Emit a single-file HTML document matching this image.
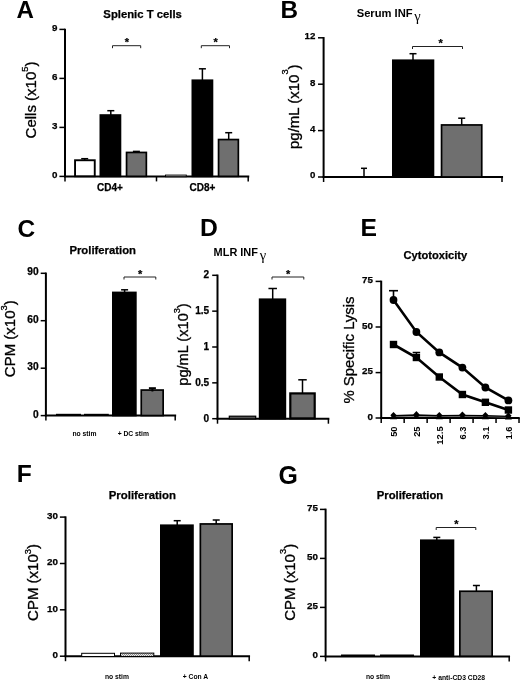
<!DOCTYPE html>
<html><head><meta charset="utf-8"><title>Figure</title>
<style>
html,body{margin:0;padding:0;background:#fff;}
body{width:520px;height:680px;overflow:hidden;font-family:"Liberation Sans",sans-serif;}
svg{display:block;font-family:"Liberation Sans",sans-serif;filter:blur(0.35px);}
</style></head><body>
<svg width="520" height="680" viewBox="0 0 520 680">
<defs><pattern id="hatch" width="2" height="2" patternUnits="userSpaceOnUse"><rect width="2" height="2" fill="#e8e8e8"/><rect width="1" height="1" fill="#888"/><rect x="1" y="1" width="1" height="1" fill="#888"/></pattern></defs>
<rect x="0" y="0" width="520" height="680" fill="#fff"/>
<text x="16.5" y="18.3" font-size="24.1" font-weight="bold" text-anchor="start">A</text>
<text x="280.4" y="18.0" font-size="24.3" font-weight="bold" text-anchor="start">B</text>
<text x="17.6" y="236.5" font-size="24.5" font-weight="bold" text-anchor="start">C</text>
<text x="200.1" y="235.7" font-size="24.7" font-weight="bold" text-anchor="start">D</text>
<text x="360.5" y="235.7" font-size="24.7" font-weight="bold" text-anchor="start">E</text>
<text x="16.7" y="481.5" font-size="24.6" font-weight="bold" text-anchor="start">F</text>
<text x="278.5" y="483.5" font-size="24.9" font-weight="bold" text-anchor="start">G</text>
<text x="142.6" y="18.0" font-size="11.3" font-weight="bold" text-anchor="middle" stroke="#000" stroke-width="0.25">Splenic T cells</text>
<line x1="65" y1="28.65" x2="65" y2="177.15" stroke="#000" stroke-width="2.0" stroke-linecap="butt"/>
<line x1="59.4" y1="29.4" x2="65" y2="29.4" stroke="#000" stroke-width="1.5" stroke-linecap="butt"/>
<text x="57.5" y="30.599999999999998" font-size="9.8" font-weight="bold" text-anchor="end" stroke="#000" stroke-width="0.25">9</text>
<line x1="59.4" y1="78.4" x2="65" y2="78.4" stroke="#000" stroke-width="1.5" stroke-linecap="butt"/>
<text x="57.5" y="79.60000000000001" font-size="9.8" font-weight="bold" text-anchor="end" stroke="#000" stroke-width="0.25">6</text>
<line x1="59.4" y1="127.4" x2="65" y2="127.4" stroke="#000" stroke-width="1.5" stroke-linecap="butt"/>
<text x="57.5" y="128.6" font-size="9.8" font-weight="bold" text-anchor="end" stroke="#000" stroke-width="0.25">3</text>
<line x1="59.4" y1="176.4" x2="65" y2="176.4" stroke="#000" stroke-width="1.5" stroke-linecap="butt"/>
<text x="57.5" y="177.6" font-size="9.8" font-weight="bold" text-anchor="end" stroke="#000" stroke-width="0.25">0</text>
<line x1="64.0" y1="176.4" x2="249.25" y2="176.4" stroke="#000" stroke-width="2.0" stroke-linecap="butt"/>
<line x1="65" y1="176.4" x2="65" y2="181.4" stroke="#000" stroke-width="1.5" stroke-linecap="butt"/>
<line x1="156.5" y1="176.4" x2="156.5" y2="181.4" stroke="#000" stroke-width="1.5" stroke-linecap="butt"/>
<line x1="248.2" y1="176.4" x2="248.2" y2="181.4" stroke="#000" stroke-width="1.5" stroke-linecap="butt"/>
<text x="36" y="100" font-size="15" text-anchor="middle" stroke="#000" stroke-width="0.3" transform="rotate(-90 36 100)">Cells (x10<tspan font-size="9.3" dy="-8.4">5</tspan><tspan dy="8.4">)</tspan></text>
<rect x="75.05" y="160.25" width="19.70" height="16.00" fill="#fff" stroke="#000" stroke-width="1.9"/>
<line x1="84.7" y1="158.7" x2="84.7" y2="160" stroke="#000" stroke-width="1.5" stroke-linecap="butt"/>
<line x1="81.2" y1="158.7" x2="88.2" y2="158.7" stroke="#000" stroke-width="1.5" stroke-linecap="butt"/>
<rect x="100.35" y="115.05" width="20.10" height="61.30" fill="#000" stroke="#000" stroke-width="1.7"/>
<line x1="110.8" y1="110.7" x2="110.8" y2="115" stroke="#000" stroke-width="1.5" stroke-linecap="butt"/>
<line x1="107.3" y1="110.7" x2="114.3" y2="110.7" stroke="#000" stroke-width="1.5" stroke-linecap="butt"/>
<rect x="126.55" y="152.45" width="19.80" height="23.90" fill="#6f6f6f" stroke="#000" stroke-width="1.7"/>
<line x1="136.4" y1="151.4" x2="136.4" y2="152.5" stroke="#000" stroke-width="1.5" stroke-linecap="butt"/>
<line x1="132.9" y1="151.4" x2="139.9" y2="151.4" stroke="#000" stroke-width="1.5" stroke-linecap="butt"/>
<rect x="165.50" y="175.10" width="20.80" height="1.60" fill="#fff" stroke="#000" stroke-width="1.0"/>
<rect x="192.35" y="80.25" width="20.10" height="96.10" fill="#000" stroke="#000" stroke-width="1.7"/>
<line x1="202.4" y1="68.8" x2="202.4" y2="80" stroke="#000" stroke-width="1.5" stroke-linecap="butt"/>
<line x1="198.9" y1="68.8" x2="205.9" y2="68.8" stroke="#000" stroke-width="1.5" stroke-linecap="butt"/>
<rect x="218.55" y="139.55" width="19.80" height="36.80" fill="#6f6f6f" stroke="#000" stroke-width="1.7"/>
<line x1="228.7" y1="132.7" x2="228.7" y2="139.5" stroke="#000" stroke-width="1.5" stroke-linecap="butt"/>
<line x1="225.2" y1="132.7" x2="232.2" y2="132.7" stroke="#000" stroke-width="1.5" stroke-linecap="butt"/>
<polyline points="112.5,48.2 112.5,45.7 140.7,45.7 140.7,48.2" fill="none" stroke="#222" stroke-width="1.0"/>
<text x="126.89999999999999" y="46.2" font-size="11" font-weight="bold" text-anchor="middle" stroke="#000" stroke-width="0.25">*</text>
<polyline points="201.3,48.2 201.3,45.7 229.5,45.7 229.5,48.2" fill="none" stroke="#222" stroke-width="1.0"/>
<text x="215.70000000000002" y="46.2" font-size="11" font-weight="bold" text-anchor="middle" stroke="#000" stroke-width="0.25">*</text>
<text x="110" y="190.6" font-size="10" font-weight="bold" text-anchor="middle" stroke="#000" stroke-width="0.25">CD4+</text>
<text x="202.5" y="190.6" font-size="10" font-weight="bold" text-anchor="middle" stroke="#000" stroke-width="0.25">CD8+</text>
<text x="356.7" y="16.5" font-size="11.2" font-weight="bold">Serum INF<tspan font-family="Liberation Serif" font-weight="normal" font-size="14.5" dy="4" dx="1.5">γ</tspan></text>
<line x1="323.6" y1="37.05" x2="323.6" y2="177.75" stroke="#000" stroke-width="2.0" stroke-linecap="butt"/>
<line x1="318.0" y1="37.8" x2="323.6" y2="37.8" stroke="#000" stroke-width="1.5" stroke-linecap="butt"/>
<text x="315.3" y="39.199999999999996" font-size="9.7" font-weight="bold" text-anchor="end" stroke="#000" stroke-width="0.25">12</text>
<line x1="318.0" y1="84.2" x2="323.6" y2="84.2" stroke="#000" stroke-width="1.5" stroke-linecap="butt"/>
<text x="315.3" y="85.60000000000001" font-size="9.7" font-weight="bold" text-anchor="end" stroke="#000" stroke-width="0.25">8</text>
<line x1="318.0" y1="130.6" x2="323.6" y2="130.6" stroke="#000" stroke-width="1.5" stroke-linecap="butt"/>
<text x="315.3" y="132.0" font-size="9.7" font-weight="bold" text-anchor="end" stroke="#000" stroke-width="0.25">4</text>
<line x1="318.0" y1="177.0" x2="323.6" y2="177.0" stroke="#000" stroke-width="1.5" stroke-linecap="butt"/>
<text x="315.3" y="178.4" font-size="9.7" font-weight="bold" text-anchor="end" stroke="#000" stroke-width="0.25">0</text>
<line x1="322.6" y1="177.0" x2="503.05" y2="177.0" stroke="#000" stroke-width="2.0" stroke-linecap="butt"/>
<line x1="323.6" y1="177.0" x2="323.6" y2="182.0" stroke="#000" stroke-width="1.5" stroke-linecap="butt"/>
<line x1="502" y1="177.0" x2="502" y2="182.0" stroke="#000" stroke-width="1.5" stroke-linecap="butt"/>
<text x="298.8" y="106.7" font-size="15" text-anchor="middle" stroke="#000" stroke-width="0.3" transform="rotate(-90 298.8 106.7)">pg/mL (x10<tspan font-size="9.3" dy="-10.3">3</tspan><tspan dy="10.3">)</tspan></text>
<line x1="364" y1="168.3" x2="364" y2="177" stroke="#000" stroke-width="1.5" stroke-linecap="butt"/>
<line x1="361.0" y1="168.3" x2="367.0" y2="168.3" stroke="#000" stroke-width="1.5" stroke-linecap="butt"/>
<rect x="392.85" y="60.25" width="40.60" height="116.70" fill="#000" stroke="#000" stroke-width="1.7"/>
<line x1="413" y1="53.7" x2="413" y2="60" stroke="#000" stroke-width="1.5" stroke-linecap="butt"/>
<line x1="409.5" y1="53.7" x2="416.5" y2="53.7" stroke="#000" stroke-width="1.5" stroke-linecap="butt"/>
<rect x="441.55" y="124.95" width="40.20" height="52.00" fill="#6f6f6f" stroke="#000" stroke-width="1.7"/>
<line x1="461.7" y1="118.2" x2="461.7" y2="125" stroke="#000" stroke-width="1.5" stroke-linecap="butt"/>
<line x1="458.2" y1="118.2" x2="465.2" y2="118.2" stroke="#000" stroke-width="1.5" stroke-linecap="butt"/>
<polyline points="412.5,49.0 412.5,46.5 462.5,46.5 462.5,49.0" fill="none" stroke="#222" stroke-width="1.0"/>
<text x="440.7" y="47.0" font-size="11" font-weight="bold" text-anchor="middle" stroke="#000" stroke-width="0.25">*</text>
<text x="102.7" y="253.9" font-size="11.3" font-weight="bold" text-anchor="middle" stroke="#000" stroke-width="0.25">Proliferation</text>
<line x1="45.9" y1="272.55" x2="45.9" y2="416.35" stroke="#000" stroke-width="2.0" stroke-linecap="butt"/>
<line x1="40.699999999999996" y1="273.3" x2="45.9" y2="273.3" stroke="#000" stroke-width="1.5" stroke-linecap="butt"/>
<text x="38.699999999999996" y="275.3" font-size="10.2" font-weight="bold" text-anchor="end" stroke="#000" stroke-width="0.25">90</text>
<line x1="40.699999999999996" y1="320.7" x2="45.9" y2="320.7" stroke="#000" stroke-width="1.5" stroke-linecap="butt"/>
<text x="38.699999999999996" y="322.7" font-size="10.2" font-weight="bold" text-anchor="end" stroke="#000" stroke-width="0.25">60</text>
<line x1="40.699999999999996" y1="368.2" x2="45.9" y2="368.2" stroke="#000" stroke-width="1.5" stroke-linecap="butt"/>
<text x="38.699999999999996" y="370.2" font-size="10.2" font-weight="bold" text-anchor="end" stroke="#000" stroke-width="0.25">30</text>
<line x1="40.699999999999996" y1="415.6" x2="45.9" y2="415.6" stroke="#000" stroke-width="1.5" stroke-linecap="butt"/>
<text x="38.699999999999996" y="417.6" font-size="10.2" font-weight="bold" text-anchor="end" stroke="#000" stroke-width="0.25">0</text>
<line x1="44.9" y1="415.6" x2="176.15" y2="415.6" stroke="#000" stroke-width="2.0" stroke-linecap="butt"/>
<line x1="45.9" y1="415.6" x2="45.9" y2="420.6" stroke="#000" stroke-width="1.5" stroke-linecap="butt"/>
<line x1="175.2" y1="415.6" x2="175.2" y2="420.6" stroke="#000" stroke-width="1.5" stroke-linecap="butt"/>
<text x="15.3" y="338.7" font-size="15" text-anchor="middle" stroke="#000" stroke-width="0.3" transform="rotate(-90 15.3 338.7)">CPM (x10<tspan font-size="9.3" dy="-8.5">3</tspan><tspan dy="8.5">)</tspan></text>
<line x1="56" y1="414.6" x2="81" y2="414.6" stroke="#000" stroke-width="1.6" stroke-linecap="butt"/>
<line x1="84" y1="414.6" x2="108.8" y2="414.6" stroke="#000" stroke-width="1.6" stroke-linecap="butt"/>
<rect x="112.85" y="292.45" width="23.00" height="123.10" fill="#000" stroke="#000" stroke-width="1.7"/>
<line x1="124.6" y1="289.8" x2="124.6" y2="292" stroke="#000" stroke-width="1.5" stroke-linecap="butt"/>
<line x1="121.1" y1="289.8" x2="128.1" y2="289.8" stroke="#000" stroke-width="1.5" stroke-linecap="butt"/>
<rect x="141.25" y="390.05" width="21.90" height="25.50" fill="#6f6f6f" stroke="#000" stroke-width="1.7"/>
<line x1="152.4" y1="388.2" x2="152.4" y2="391.5" stroke="#000" stroke-width="2.0" stroke-linecap="butt"/>
<line x1="148.9" y1="388.2" x2="155.9" y2="388.2" stroke="#000" stroke-width="2.0" stroke-linecap="butt"/>
<polyline points="124,279.5 124,277 155.8,277 155.8,279.5" fill="none" stroke="#222" stroke-width="1.0"/>
<text x="140.20000000000002" y="277.5" font-size="11" font-weight="bold" text-anchor="middle" stroke="#000" stroke-width="0.25">*</text>
<text x="84.5" y="436.3" font-size="6.75" font-weight="bold" text-anchor="middle">no stim</text>
<text x="133.3" y="436.3" font-size="6.75" font-weight="bold" text-anchor="middle">+ DC stim</text>
<text x="213.6" y="255.8" font-size="10.95" font-weight="bold">MLR INF<tspan font-family="Liberation Serif" font-weight="normal" font-size="14.5" dy="4" dx="1.8">γ</tspan></text>
<line x1="217.5" y1="274.55" x2="217.5" y2="419.45" stroke="#000" stroke-width="2.0" stroke-linecap="butt"/>
<line x1="212.2" y1="275.3" x2="217.5" y2="275.3" stroke="#000" stroke-width="1.5" stroke-linecap="butt"/>
<text x="209.2" y="278.2" font-size="10.1" font-weight="bold" text-anchor="end" stroke="#000" stroke-width="0.25">2</text>
<line x1="212.2" y1="311.15" x2="217.5" y2="311.15" stroke="#000" stroke-width="1.5" stroke-linecap="butt"/>
<text x="209.2" y="314.04999999999995" font-size="10.1" font-weight="bold" text-anchor="end" stroke="#000" stroke-width="0.25">1.5</text>
<line x1="212.2" y1="347.0" x2="217.5" y2="347.0" stroke="#000" stroke-width="1.5" stroke-linecap="butt"/>
<text x="209.2" y="349.9" font-size="10.1" font-weight="bold" text-anchor="end" stroke="#000" stroke-width="0.25">1</text>
<line x1="212.2" y1="382.85" x2="217.5" y2="382.85" stroke="#000" stroke-width="1.5" stroke-linecap="butt"/>
<text x="209.2" y="385.75" font-size="10.1" font-weight="bold" text-anchor="end" stroke="#000" stroke-width="0.25">0.5</text>
<line x1="212.2" y1="418.7" x2="217.5" y2="418.7" stroke="#000" stroke-width="1.5" stroke-linecap="butt"/>
<text x="209.2" y="421.59999999999997" font-size="10.1" font-weight="bold" text-anchor="end" stroke="#000" stroke-width="0.25">0</text>
<line x1="216.5" y1="418.7" x2="329.35" y2="418.7" stroke="#000" stroke-width="2.0" stroke-linecap="butt"/>
<line x1="217.5" y1="418.7" x2="217.5" y2="423.7" stroke="#000" stroke-width="1.5" stroke-linecap="butt"/>
<line x1="328.4" y1="418.7" x2="328.4" y2="423.7" stroke="#000" stroke-width="1.5" stroke-linecap="butt"/>
<text x="187.7" y="344.5" font-size="14.6" text-anchor="middle" stroke="#000" stroke-width="0.3" transform="rotate(-90 187.7 344.5)">pg/mL (x10<tspan font-size="9.1" dy="-7.7">3</tspan><tspan dy="7.7">)</tspan></text>
<rect x="229.30" y="416.20" width="26.40" height="2.70" fill="#555" stroke="#000" stroke-width="1.2"/>
<rect x="259.65" y="299.25" width="25.70" height="119.40" fill="#000" stroke="#000" stroke-width="1.7"/>
<line x1="272.7" y1="288.5" x2="272.7" y2="299" stroke="#000" stroke-width="1.5" stroke-linecap="butt"/>
<line x1="268.45" y1="288.5" x2="276.95" y2="288.5" stroke="#000" stroke-width="1.5" stroke-linecap="butt"/>
<rect x="290.30" y="393.40" width="24.40" height="25.00" fill="#6f6f6f" stroke="#000" stroke-width="2.2"/>
<line x1="302.5" y1="379.8" x2="302.5" y2="393" stroke="#000" stroke-width="1.5" stroke-linecap="butt"/>
<line x1="298.25" y1="379.8" x2="306.75" y2="379.8" stroke="#000" stroke-width="1.5" stroke-linecap="butt"/>
<polyline points="272,279.5 272,277 303.8,277 303.8,279.5" fill="none" stroke="#222" stroke-width="1.0"/>
<text x="288.2" y="277.5" font-size="11" font-weight="bold" text-anchor="middle" stroke="#000" stroke-width="0.25">*</text>
<text x="435.4" y="258.8" font-size="11.15" font-weight="bold" text-anchor="middle" stroke="#000" stroke-width="0.25">Cytotoxicity</text>
<line x1="381.2" y1="280.65" x2="381.2" y2="418.75" stroke="#000" stroke-width="2.0" stroke-linecap="butt"/>
<line x1="375.59999999999997" y1="281.4" x2="381.2" y2="281.4" stroke="#000" stroke-width="1.5" stroke-linecap="butt"/>
<text x="372.99999999999994" y="283.09999999999997" font-size="9.8" font-weight="bold" text-anchor="end" stroke="#000" stroke-width="0.25">75</text>
<line x1="375.59999999999997" y1="327.0" x2="381.2" y2="327.0" stroke="#000" stroke-width="1.5" stroke-linecap="butt"/>
<text x="372.99999999999994" y="328.7" font-size="9.8" font-weight="bold" text-anchor="end" stroke="#000" stroke-width="0.25">50</text>
<line x1="375.59999999999997" y1="372.6" x2="381.2" y2="372.6" stroke="#000" stroke-width="1.5" stroke-linecap="butt"/>
<text x="372.99999999999994" y="374.3" font-size="9.8" font-weight="bold" text-anchor="end" stroke="#000" stroke-width="0.25">25</text>
<line x1="375.59999999999997" y1="418.0" x2="381.2" y2="418.0" stroke="#000" stroke-width="1.5" stroke-linecap="butt"/>
<text x="372.99999999999994" y="419.7" font-size="9.8" font-weight="bold" text-anchor="end" stroke="#000" stroke-width="0.25">0</text>
<line x1="380.2" y1="418.0" x2="519.75" y2="418.0" stroke="#000" stroke-width="2.0" stroke-linecap="butt"/>
<line x1="381.2" y1="418.0" x2="381.2" y2="423.0" stroke="#000" stroke-width="1.5" stroke-linecap="butt"/>
<line x1="404.16999999999996" y1="418.0" x2="404.16999999999996" y2="423.0" stroke="#000" stroke-width="1.5" stroke-linecap="butt"/>
<line x1="427.14" y1="418.0" x2="427.14" y2="423.0" stroke="#000" stroke-width="1.5" stroke-linecap="butt"/>
<line x1="450.11" y1="418.0" x2="450.11" y2="423.0" stroke="#000" stroke-width="1.5" stroke-linecap="butt"/>
<line x1="473.08" y1="418.0" x2="473.08" y2="423.0" stroke="#000" stroke-width="1.5" stroke-linecap="butt"/>
<line x1="496.04999999999995" y1="418.0" x2="496.04999999999995" y2="423.0" stroke="#000" stroke-width="1.5" stroke-linecap="butt"/>
<line x1="519.02" y1="418.0" x2="519.02" y2="423.0" stroke="#000" stroke-width="1.5" stroke-linecap="butt"/>
<text x="354.3" y="350" font-size="14.9" text-anchor="middle" stroke="#000" stroke-width="0.3" transform="rotate(-90 354.3 350)">% Specific Lysis</text>
<polyline points="393.5,416.5 416.4,416.1 439.3,416.5 462.4,416.2 485.4,416.5 508.4,416.8" fill="none" stroke="#888" stroke-width="1.2"/>
<polyline points="393.5,415.8 416.4,415.0 439.3,415.8 462.4,415.4 485.4,415.8 508.4,416.4" fill="none" stroke="#000" stroke-width="1.4"/>
<polygon points="390.0,419.3 397.0,419.3 393.5,412.7" fill="#000"/>
<polygon points="412.9,418.9 419.9,418.9 416.4,412.3" fill="#000"/>
<polygon points="435.8,419.3 442.8,419.3 439.3,412.7" fill="#000"/>
<polygon points="458.9,419.0 465.9,419.0 462.4,412.4" fill="#000"/>
<polygon points="481.9,419.3 488.9,419.3 485.4,412.7" fill="#000"/>
<polygon points="504.9,419.6 511.9,419.6 508.4,413.0" fill="#000"/>
<polygon points="390.3,415.2 393.5,411.9 396.7,415.2 393.5,418.5" fill="#000"/>
<polygon points="413.2,414.4 416.4,411.1 419.59999999999997,414.4 416.4,417.7" fill="#000"/>
<polygon points="436.1,415.2 439.3,411.9 442.5,415.2 439.3,418.5" fill="#000"/>
<polygon points="459.2,414.8 462.4,411.5 465.59999999999997,414.8 462.4,418.1" fill="#000"/>
<polygon points="482.2,415.2 485.4,411.9 488.59999999999997,415.2 485.4,418.5" fill="#000"/>
<polygon points="505.2,415.8 508.4,412.5 511.59999999999997,415.8 508.4,419.1" fill="#000"/>
<line x1="393.5" y1="290.7" x2="393.5" y2="300" stroke="#000" stroke-width="1.6" stroke-linecap="butt"/>
<line x1="389.0" y1="290.7" x2="398.0" y2="290.7" stroke="#000" stroke-width="1.6" stroke-linecap="butt"/>
<line x1="416.4" y1="352.5" x2="416.4" y2="357.5" stroke="#000" stroke-width="1.5" stroke-linecap="butt"/>
<line x1="412.65" y1="352.5" x2="420.15" y2="352.5" stroke="#000" stroke-width="1.5" stroke-linecap="butt"/>
<polyline points="393.5,300 416.4,332 439.3,352.4 462.4,367.6 485.4,387.5 508.4,400.4" fill="none" stroke="#000" stroke-width="2.6"/>
<polyline points="393.5,344.5 416.4,357.5 439.3,377 462.4,394.5 485.4,402.3 508.4,410" fill="none" stroke="#000" stroke-width="2.6"/>
<circle cx="393.5" cy="300" r="3.9" fill="#000"/>
<circle cx="416.4" cy="332" r="3.9" fill="#000"/>
<circle cx="439.3" cy="352.4" r="3.9" fill="#000"/>
<circle cx="462.4" cy="367.6" r="3.9" fill="#000"/>
<circle cx="485.4" cy="387.5" r="3.9" fill="#000"/>
<circle cx="508.4" cy="400.4" r="3.9" fill="#000"/>
<rect x="389.80" y="340.80" width="7.4" height="7.4" fill="#000"/>
<rect x="412.70" y="353.80" width="7.4" height="7.4" fill="#000"/>
<rect x="435.60" y="373.30" width="7.4" height="7.4" fill="#000"/>
<rect x="458.70" y="390.80" width="7.4" height="7.4" fill="#000"/>
<rect x="481.70" y="398.60" width="7.4" height="7.4" fill="#000"/>
<rect x="504.70" y="406.30" width="7.4" height="7.4" fill="#000"/>
<text x="396.8" y="426.4" font-size="9.4" font-weight="bold" text-anchor="end" transform="rotate(-90 396.8 426.4)">50</text>
<text x="419.7" y="426.4" font-size="9.4" font-weight="bold" text-anchor="end" transform="rotate(-90 419.7 426.4)">25</text>
<text x="442.6" y="426.4" font-size="9.4" font-weight="bold" text-anchor="end" transform="rotate(-90 442.6 426.4)">12.5</text>
<text x="465.7" y="426.4" font-size="9.4" font-weight="bold" text-anchor="end" transform="rotate(-90 465.7 426.4)">6.3</text>
<text x="488.7" y="426.4" font-size="9.4" font-weight="bold" text-anchor="end" transform="rotate(-90 488.7 426.4)">3.1</text>
<text x="511.7" y="426.4" font-size="9.4" font-weight="bold" text-anchor="end" transform="rotate(-90 511.7 426.4)">1.6</text>
<text x="142.3" y="499" font-size="11.4" font-weight="bold" text-anchor="middle" stroke="#000" stroke-width="0.25">Proliferation</text>
<line x1="65.5" y1="516.35" x2="65.5" y2="656.95" stroke="#000" stroke-width="2.0" stroke-linecap="butt"/>
<line x1="59.9" y1="517.1" x2="65.5" y2="517.1" stroke="#000" stroke-width="1.5" stroke-linecap="butt"/>
<text x="57.9" y="518.8000000000001" font-size="9.8" font-weight="bold" text-anchor="end" stroke="#000" stroke-width="0.25">30</text>
<line x1="59.9" y1="563.5" x2="65.5" y2="563.5" stroke="#000" stroke-width="1.5" stroke-linecap="butt"/>
<text x="57.9" y="565.2" font-size="9.8" font-weight="bold" text-anchor="end" stroke="#000" stroke-width="0.25">20</text>
<line x1="59.9" y1="609.8" x2="65.5" y2="609.8" stroke="#000" stroke-width="1.5" stroke-linecap="butt"/>
<text x="57.9" y="611.5" font-size="9.8" font-weight="bold" text-anchor="end" stroke="#000" stroke-width="0.25">10</text>
<line x1="59.9" y1="656.2" x2="65.5" y2="656.2" stroke="#000" stroke-width="1.5" stroke-linecap="butt"/>
<text x="57.9" y="657.9000000000001" font-size="9.8" font-weight="bold" text-anchor="end" stroke="#000" stroke-width="0.25">0</text>
<line x1="64.5" y1="656.2" x2="250.05" y2="656.2" stroke="#000" stroke-width="2.0" stroke-linecap="butt"/>
<line x1="65.5" y1="656.2" x2="65.5" y2="661.2" stroke="#000" stroke-width="1.5" stroke-linecap="butt"/>
<line x1="249.2" y1="656.2" x2="249.2" y2="661.2" stroke="#000" stroke-width="1.5" stroke-linecap="butt"/>
<text x="37.5" y="582.5" font-size="15" text-anchor="middle" stroke="#000" stroke-width="0.3" transform="rotate(-90 37.5 582.5)">CPM (x10<tspan font-size="9.3" dy="-6.6">3</tspan><tspan dy="6.6">)</tspan></text>
<rect x="81.70" y="653.30" width="32.80" height="3.20" fill="#fff" stroke="#000" stroke-width="1.0"/>
<rect x="120.50" y="653.10" width="33.30" height="3.40" fill="url(#hatch)" stroke="#000" stroke-width="1.0"/>
<rect x="160.85" y="525.25" width="32.10" height="130.90" fill="#000" stroke="#000" stroke-width="1.7"/>
<line x1="177.2" y1="520.7" x2="177.2" y2="525" stroke="#000" stroke-width="1.5" stroke-linecap="butt"/>
<line x1="173.7" y1="520.7" x2="180.7" y2="520.7" stroke="#000" stroke-width="1.5" stroke-linecap="butt"/>
<rect x="200.35" y="523.95" width="31.80" height="132.20" fill="#6f6f6f" stroke="#000" stroke-width="1.7"/>
<line x1="216.2" y1="520" x2="216.2" y2="524" stroke="#000" stroke-width="1.5" stroke-linecap="butt"/>
<line x1="212.7" y1="520" x2="219.7" y2="520" stroke="#000" stroke-width="1.5" stroke-linecap="butt"/>
<text x="117" y="678.7" font-size="6.75" font-weight="bold" text-anchor="middle">no stim</text>
<text x="195.5" y="678.7" font-size="6.75" font-weight="bold" text-anchor="middle">+ Con A</text>
<text x="410" y="499.0" font-size="11.3" font-weight="bold" text-anchor="middle" stroke="#000" stroke-width="0.25">Proliferation</text>
<line x1="325.6" y1="508.65" x2="325.6" y2="657.15" stroke="#000" stroke-width="2.0" stroke-linecap="butt"/>
<line x1="320.0" y1="509.4" x2="325.6" y2="509.4" stroke="#000" stroke-width="1.5" stroke-linecap="butt"/>
<text x="318.0" y="511.09999999999997" font-size="9.8" font-weight="bold" text-anchor="end" stroke="#000" stroke-width="0.25">75</text>
<line x1="320.0" y1="558.4" x2="325.6" y2="558.4" stroke="#000" stroke-width="1.5" stroke-linecap="butt"/>
<text x="318.0" y="560.1" font-size="9.8" font-weight="bold" text-anchor="end" stroke="#000" stroke-width="0.25">50</text>
<line x1="320.0" y1="607.4" x2="325.6" y2="607.4" stroke="#000" stroke-width="1.5" stroke-linecap="butt"/>
<text x="318.0" y="609.1" font-size="9.8" font-weight="bold" text-anchor="end" stroke="#000" stroke-width="0.25">25</text>
<line x1="320.0" y1="656.4" x2="325.6" y2="656.4" stroke="#000" stroke-width="1.5" stroke-linecap="butt"/>
<text x="318.0" y="658.1" font-size="9.8" font-weight="bold" text-anchor="end" stroke="#000" stroke-width="0.25">0</text>
<line x1="324.6" y1="656.4" x2="510.05" y2="656.4" stroke="#000" stroke-width="2.0" stroke-linecap="butt"/>
<line x1="325.6" y1="656.4" x2="325.6" y2="661.4" stroke="#000" stroke-width="1.5" stroke-linecap="butt"/>
<line x1="509.2" y1="656.4" x2="509.2" y2="661.4" stroke="#000" stroke-width="1.5" stroke-linecap="butt"/>
<text x="294.9" y="582.3" font-size="15" text-anchor="middle" stroke="#000" stroke-width="0.3" transform="rotate(-90 294.9 582.3)">CPM (x10<tspan font-size="9.3" dy="-9.2">3</tspan><tspan dy="9.2">)</tspan></text>
<line x1="341" y1="655.2" x2="375" y2="655.2" stroke="#000" stroke-width="1.4" stroke-linecap="butt"/>
<line x1="380" y1="655.2" x2="414" y2="655.2" stroke="#000" stroke-width="1.4" stroke-linecap="butt"/>
<rect x="420.85" y="540.25" width="32.60" height="116.00" fill="#000" stroke="#000" stroke-width="1.7"/>
<line x1="436.8" y1="537.4" x2="436.8" y2="540" stroke="#000" stroke-width="1.5" stroke-linecap="butt"/>
<line x1="433.3" y1="537.4" x2="440.3" y2="537.4" stroke="#000" stroke-width="1.5" stroke-linecap="butt"/>
<rect x="459.85" y="591.25" width="32.30" height="65.00" fill="#6f6f6f" stroke="#000" stroke-width="1.7"/>
<line x1="476.4" y1="585.5" x2="476.4" y2="591" stroke="#000" stroke-width="1.5" stroke-linecap="butt"/>
<line x1="472.9" y1="585.5" x2="479.9" y2="585.5" stroke="#000" stroke-width="1.5" stroke-linecap="butt"/>
<polyline points="436.2,530.0 436.2,527.5 475.8,527.5 475.8,530.0" fill="none" stroke="#222" stroke-width="1.0"/>
<text x="456.3" y="528.0" font-size="11" font-weight="bold" text-anchor="middle" stroke="#000" stroke-width="0.25">*</text>
<text x="378" y="678.7" font-size="6.75" font-weight="bold" text-anchor="middle">no stim</text>
<text x="458.7" y="679.8" font-size="6.75" font-weight="bold" text-anchor="middle">+ anti-CD3 CD28</text>
</svg>
</body></html>
